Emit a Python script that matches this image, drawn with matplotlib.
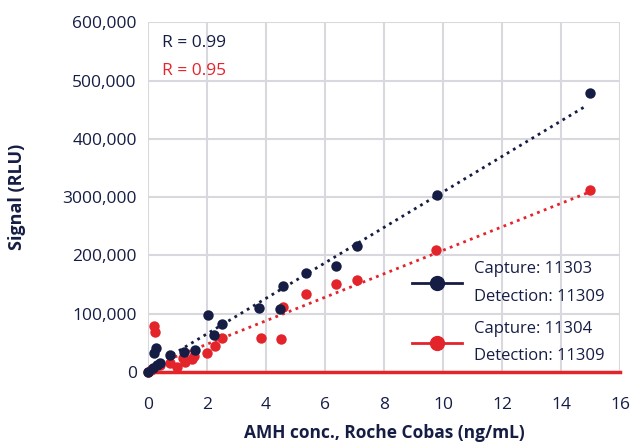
import matplotlib
matplotlib.use("Agg")
import matplotlib.pyplot as plt
import numpy as np

NAVY = "#161d45"
RED = "#e3242b"
GRID = "#d9d8de"

plt.rcParams['font.family'] = ['Open Sans', 'DejaVu Sans']

# Capture 11303 / Detection 11309
conc_a = [0.0, 0.17, 0.2, 0.27, 0.3, 0.4, 0.75, 1.22, 1.6, 2.03, 2.24, 2.5,
          3.76, 4.47, 4.58, 5.36, 6.37, 7.08, 9.8, 14.98]
signal_a = [0, 7000, 32000, 41000, 12000, 15000, 29000, 34000, 37000, 98000,
            63000, 82000, 110000, 108000, 147000, 170000, 182000, 216000,
            303000, 478000]

# Capture 11304 / Detection 11309
conc_b = [0.0, 0.1, 0.22, 0.24, 0.4, 0.75, 1.0, 1.2, 1.25, 1.5, 1.55, 2.0,
          2.27, 2.5, 3.82, 4.5, 4.58, 5.36, 6.37, 7.1, 9.76, 14.98]
signal_b = [0, 3000, 79000, 68000, 12000, 15000, 9000, 24000, 17000, 22000,
            27000, 33000, 44000, 58000, 58000, 57000, 112000, 134000, 151000,
            158000, 209000, 312000]

label_a = "Capture: 11303\nDetection: 11309"
label_b = "Capture: 11304\nDetection: 11309"
r_a = 0.99
r_b = 0.95

x_ticks = list(range(0, 17, 2))
y_ticks = [0, 100000, 200000, 300000, 400000, 500000, 600000]
y_tick_labels = ["0", "100,000", "200,000", "3000,000", "400,000",
                 "500,000", "600,000"]

fig = plt.figure(figsize=(6.32, 4.44), dpi=100)
ax = fig.add_axes([0.234, 0.162, 0.747, 0.788])

# trend lines
for cx, sy, col in [(conc_a, signal_a, NAVY), (conc_b, signal_b, RED)]:
    k, b = np.polyfit(cx, sy, 1)
    xs = np.array([0, max(cx) - 0.1])
    ax.plot(xs, k * xs + b, color=col, lw=2, ls=(0, (1, 1.6)), zorder=3)

ax.plot(conc_b, signal_b, "o", color=RED, ms=7.5, mec="none", clip_on=False,
        zorder=4)
ax.plot(conc_a, signal_a, "o", color=NAVY, ms=7.5, mec="none", clip_on=False,
        zorder=5)

# legend handles
ax.plot([], [], "-o", color=NAVY, ms=10, lw=2, label=label_a)
ax.plot([], [], "-o", color=RED, ms=10, lw=2, label=label_b)
leg = ax.legend(loc="lower right", bbox_to_anchor=(1.0, -0.02),
                frameon=False, fontsize=12, handlelength=3.0,
                handletextpad=0.75, labelspacing=0.95, borderaxespad=0.5,
                labelcolor=NAVY)
for t in leg.get_texts():
    t.set_linespacing(1.95)

ax.text(0.03, 0.94, f"R = {r_a}", transform=ax.transAxes, color=NAVY,
        fontsize=12.5, va="center")
ax.text(0.03, 0.86, f"R = {r_b}", transform=ax.transAxes, color=RED,
        fontsize=12.5, va="center")

ax.set_xlim(0, 16)
ax.set_ylim(0, 600000)
ax.set_xticks(x_ticks)
ax.set_yticks(y_ticks)
ax.set_yticklabels(y_tick_labels)
ax.grid(True, color=GRID, lw=1.5)
ax.set_axisbelow(True)
for side in ["top", "right", "left"]:
    ax.spines[side].set_visible(False)
ax.spines["bottom"].set_color(RED)
ax.spines["bottom"].set_linewidth(2.5)
ax.spines["bottom"].set_zorder(2)
ax.tick_params(length=0, labelsize=12.5, labelcolor=NAVY)
ax.tick_params(axis="x", pad=18)
ax.tick_params(axis="y", pad=8)

ax.set_xlabel("AMH conc., Roche Cobas (ng/mL)", fontsize=12.5,
              fontweight="bold", color=NAVY, labelpad=8)
ax.set_ylabel("Signal (RLU)", fontsize=13, fontweight="bold", color=NAVY,
              labelpad=26)

fig.savefig("out.png", dpi=100)
